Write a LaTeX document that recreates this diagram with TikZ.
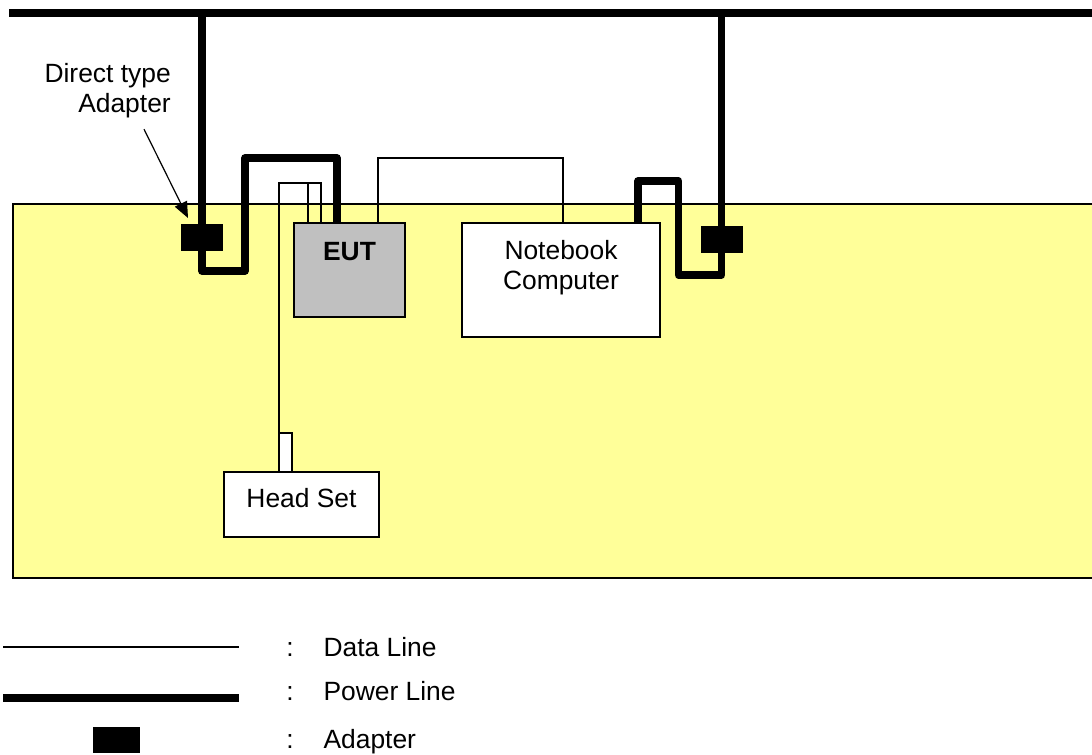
\documentclass[tikz,border=0pt]{standalone}
\usepackage{fontspec}
\setmainfont{Liberation Sans}
\usetikzlibrary{positioning,calc,arrows.meta}
\definecolor{tableyellow}{RGB}{255,255,153}
\definecolor{eutgray}{RGB}{192,192,192}

\begin{document}
\begin{tikzpicture}[
    x=0.75pt,y=-0.75pt,
    font=\fontsize{19.8}{22.5}\selectfont,
    powerline/.style={line width=5.6pt,line join=round},
    dataline/.style={line width=0.9pt},
    unitbox/.style={draw,line width=1.3pt,inner sep=0pt,outer sep=0pt,anchor=north west},
    adapter/.style={fill=black,inner sep=0pt,outer sep=0pt,minimum width=31.5pt,minimum height=20.25pt},
    txt/.style={inner sep=0pt}
]
    \useasboundingbox (0,0) rectangle (1092,754);
    %Table
    \draw[fill=tableyellow,line width=0.9pt] (13,204) rectangle (1110,578);
    \coordinate (bus-W) at (9,13);
    \coordinate (bus-E) at (1110,13);
    %Units
    \node[unitbox,fill=eutgray,minimum width=83.25pt,minimum height=70.5pt] (EUT) at (294,223) {};
    \node[txt,below=14.25pt of EUT.north] (EUT-txt) {\bfseries EUT};
    \node[unitbox,fill=white,minimum width=148.5pt,minimum height=85.5pt] (NB) at (462,223) {};
    \node[txt,align=center,below=13pt of NB.north] (NB-txt) {Notebook\\Computer};
    \node[unitbox,fill=white,minimum width=116.25pt,minimum height=48.75pt] (HS) at (224,472) {};
    \node[txt,below=12pt of HS.north] (HS-txt) {Head Set};
    \node[unitbox,fill=white,line width=0.9pt,anchor=south west,minimum width=9.75pt,minimum height=29.25pt] (plug) at ($(HS.north west)+(55,0)$) {};
    %Adapters
    \node[adapter] (A-L) at (202,237.5) {};
    \node[adapter] (A-R) at (721.5,239.5) {};
    \node[txt,align=right,anchor=north east] (note) at (171,63) {Direct type\\Adapter};
    \draw[-{Triangle[length=12pt,width=10pt]},line width=0.9pt] ($(note.south east)+(-27,11)$) -- ($(A-L.north west)+(7,-6)$);
    %Power lines
    \draw[powerline] (bus-W) -- (bus-E);
    \draw[powerline] (A-L |- bus-W) -- ++(0,258) -- ++(43,0) -- ++(0,-113) -| ($(EUT.north west)+(43,0)$);
    \draw[powerline] (A-R |- bus-W) -- ++(0,262) -- ++(-43,0) -- ++(0,-94) -| ($(NB.north west)+(176,0)$);
    %Data lines
    \draw[dataline] (plug.south west) -- ++(0,-289) -| ($(EUT.north west)+(27,0)$);
    \draw[dataline] ($(EUT.north west)+(14,-40)$) -- ($(EUT.north west)+(14,0)$);
    \draw[dataline] ($(EUT.north west)+(84,0)$) -- ++(0,-65) -| ($(NB.north west)+(101,0)$);
    %Legend
    \coordinate (lg-d1) at (3,647);   \coordinate (lg-d2) at (239,647);
    \coordinate (lg-p1) at (3,698);   \coordinate (lg-p2) at (239,698);
    \draw[dataline] (lg-d1) -- (lg-d2);
    \draw[line width=5.8pt] (lg-p1) -- (lg-p2);
    \node[adapter,minimum width=35.25pt,minimum height=19.5pt] (lg-adp) at (116,740) {};
    \node[txt,anchor=base] (col-d) at (290,656) {:};
    \node[txt,anchor=base] (col-p) at (290,700) {:};
    \node[txt,anchor=base] (col-a) at (290,748) {:};
    \node[txt,base right=22pt of col-d] (lg-data) {Data Line};
    \node[txt,base right=22pt of col-p] (lg-power) {Power Line};
    \node[txt,base right=22pt of col-a] (lg-adapter) {Adapter};
\end{tikzpicture}
\end{document}
